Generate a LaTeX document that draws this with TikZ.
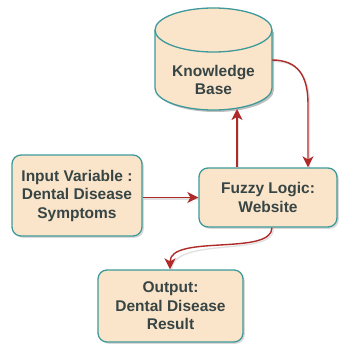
\documentclass[tikz,border=0pt]{standalone}
\usepackage{fontspec}
\setmainfont{Liberation Sans}
\usetikzlibrary{arrows.meta,shadows}
\definecolor{boxfill}{HTML}{FBE5CA}
\definecolor{boxline}{HTML}{3E9A9A}
\definecolor{arr}{HTML}{B02A2A}
\definecolor{txt}{HTML}{374545}
\tikzset{
  lbl/.style={text=txt, font=\bfseries\fontsize{15.5}{18.5}\selectfont, align=center},
  procbox/.style={lbl, draw=boxline, line width=1.3pt, fill=boxfill, rounded corners=9pt,
     inner sep=0pt, drop shadow={opacity=0.3, shadow xshift=1.8pt, shadow yshift=-1.8pt}},
  conn/.style={draw=arr, line width=1.4pt, -{Stealth[length=11pt,width=11pt,inset=3pt]},
     preaction={draw=black!40, opacity=0.3, line width=1.3pt, -, transform canvas={shift={(1.5pt,-1.5pt)}}}},
}
\begin{document}
\begin{tikzpicture}[x=1pt,y=-1pt]
\useasboundingbox (0,0) rectangle (340,345);
% cylinder (Knowledge Base)
\fill[black, opacity=0.25] (157,32) -- (157,90) arc[start angle=180, end angle=360, x radius=58.5pt, y radius=22pt] -- (274,32) -- cycle;
\draw[boxline, line width=1.3pt, fill=boxfill] (155,30) -- (155,88) arc[start angle=180, end angle=360, x radius=58.5pt, y radius=22pt] -- (272,30) arc[start angle=0, end angle=180, x radius=58.5pt, y radius=22pt] -- cycle;
\draw[boxline, line width=1.3pt] (155,30) arc[start angle=180, end angle=360, x radius=58.5pt, y radius=22pt];
\node[lbl] (kb) at (213.5,80) {Knowledge\\Base};
\coordinate (kbbot) at (237,109);
\coordinate (kbright) at (272,60);
% boxes
\node[procbox, minimum width=130pt, minimum height=81pt] (in) at (77,195.5) {Input Variable :\\Dental Disease\\Symptoms};
\node[procbox, minimum width=138pt, minimum height=59pt] (fz) at (268,197.5) {Fuzzy Logic:\\Website};
\node[procbox, minimum width=145pt, minimum height=72pt] (out) at (170.5,306) {Output:\\Dental Disease\\Result};
% connectors
\draw[conn] (in.east |- fz.west) -- (fz.west);
\draw[conn] (fz.north -| kbbot) -- (kbbot);
\draw[conn] (kbright) .. controls (298,60) and (308,76) .. (308,104) -- (fz.north -| 308,0);
\draw[conn] (fz.south -| 272,0) .. controls (272,256) and (170,234) .. (out.north -| 170,0);
\end{tikzpicture}
\end{document}
